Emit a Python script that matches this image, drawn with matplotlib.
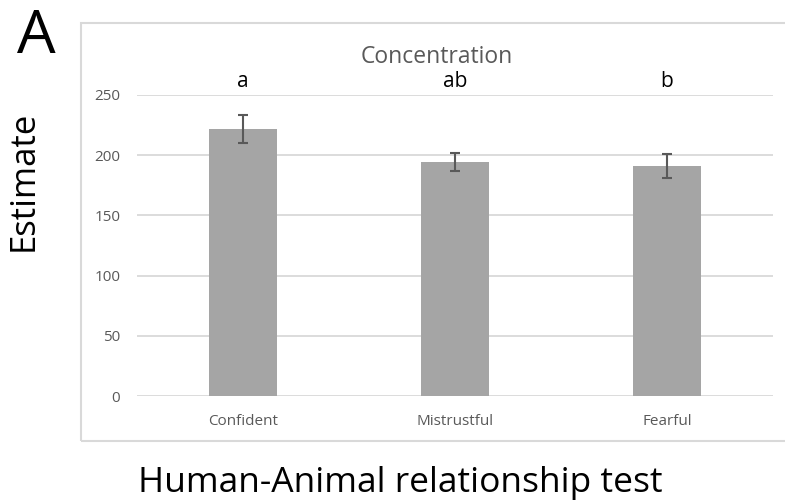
import matplotlib
matplotlib.use('Agg')
import matplotlib.pyplot as plt
from matplotlib.patches import Rectangle

plt.rcParams['font.family'] = ['Open Sans', 'DejaVu Sans']

# Estimates per group with error bars
groups = ['Confident', 'Mistrustful', 'Fearful']
estimates = [222, 194, 191]
errors = [11.5, 7.5, 10]
letters = ['a', 'ab', 'b']

W, H = 785, 501
fig = plt.figure(figsize=(W / 100, H / 100), dpi=100)

# chart border (runs off the right edge)
fig.patches.append(Rectangle((81 / W, 1 - 441 / H), 720 / W, 418 / H,
                             transform=fig.transFigure, fill=False,
                             edgecolor='#d9d9d9', linewidth=1.5))

ax = fig.add_axes([137 / W, 1 - 396 / H, 636 / W, 301 / H])
x = range(len(groups))
ax.bar(x, estimates, width=0.32, color='#a5a5a5', zorder=2)
ax.errorbar(x, estimates, yerr=errors, fmt='none', ecolor='#595959',
            elinewidth=1.5, capsize=3.3, capthick=1.5, zorder=3)

ax.set_xlim(-0.5, 2.5)
ax.set_ylim(0, 250)
ax.set_yticks(range(0, 251, 50))
ax.yaxis.grid(True, color='#d9d9d9', linewidth=1.3, zorder=0)
ax.set_axisbelow(True)
for s in ax.spines.values():
    s.set_visible(False)
ax.tick_params(length=0, colors='#595959', labelsize=11)
ax.tick_params(axis='y', pad=12)
ax.tick_params(axis='x', pad=13)
ax.set_xticks(list(x))
ax.set_xticklabels(groups)

# significance letters above each group
for i, lab in enumerate(letters):
    ax.text(i, 1 + 8 / 301, lab, ha='center', va='baseline', fontsize=15,
            color='black', transform=ax.get_xaxis_transform())

fig.text(437 / W, 1 - 63 / H, 'Concentration', ha='center', va='baseline',
         fontsize=16.5, color='#595959')

fig.text(36 / W, 1 - 53 / H, 'A', fontsize=44, va='baseline', ha='center')
fig.text(24 / W, 1 - 181 / H, 'Estimate', fontsize=25, rotation=90,
         va='center', ha='center')
fig.text(400 / W, 1 - 492 / H, 'Human-Animal relationship test',
         fontsize=25.5, va='baseline', ha='center')

fig.savefig('out.png', dpi=100)
